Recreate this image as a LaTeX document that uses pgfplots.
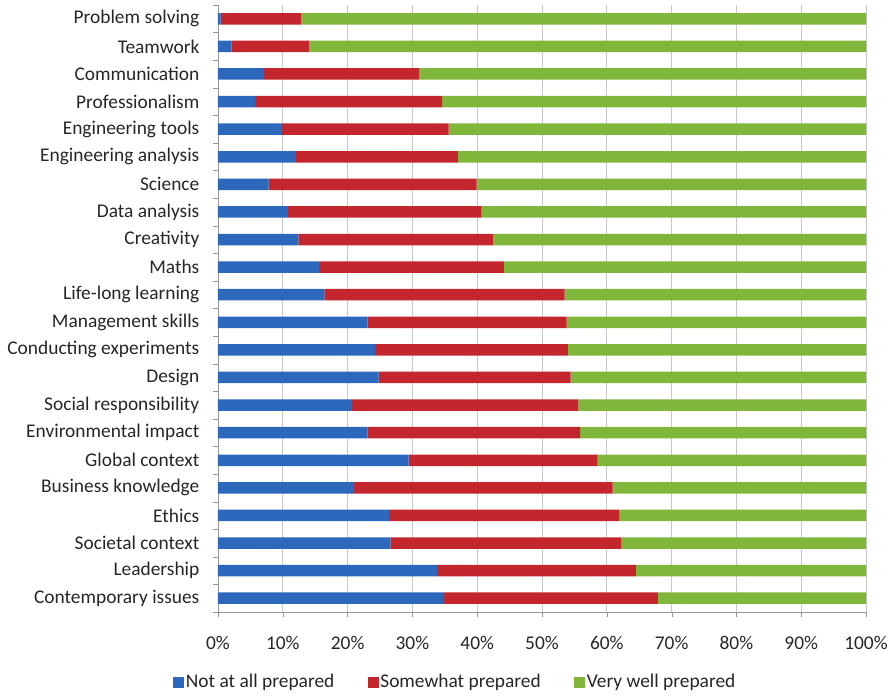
\documentclass[border=0pt]{standalone}
\usepackage{pgfplots}
\usepackage{pgfplotstable}
\pgfplotsset{compat=1.18}
\usepackage{fontspec}
\setmainfont{Carlito}
\definecolor{cblue}{RGB}{44,104,188}
\definecolor{cred}{RGB}{196,38,46}
\definecolor{cgreen}{RGB}{128,182,58}
\definecolor{cgrid}{RGB}{200,200,200}
\definecolor{caxis}{RGB}{150,150,150}
\pgfplotstableread{
idx a b c
0 0.4 12.4 87.2
1 2.1 12.0 85.9
2 7.1 23.9 69.0
3 5.7 28.9 65.4
4 9.9 25.7 64.4
5 12.0 25.0 63.0
6 7.8 32.1 60.1
7 10.8 29.9 59.3
8 12.4 30.1 57.5
9 15.6 28.5 55.9
10 16.4 37.1 46.5
11 23.1 30.7 46.2
12 24.2 29.8 46.0
13 24.8 29.6 45.6
14 20.7 34.9 44.4
15 23.1 32.8 44.1
16 29.4 29.2 41.4
17 21.0 39.9 39.1
18 26.4 35.5 38.1
19 26.6 35.6 37.8
20 33.8 30.7 35.5
21 34.9 33.0 32.1
}\datatable
\begin{document}
\fontsize{19.4}{23}\selectfont
\begin{tikzpicture}
\begin{axis}[
  name=main,
  scale only axis,
  width=648pt, height=607pt,
  xbar stacked,
  bar width=11.5pt,
  xmin=0, xmax=100,
  ymin=-0.5, ymax=21.5,
  y dir=reverse,
  xtick={0,10,...,100},
  xticklabel={\pgfmathprintnumber{\tick}\%},
  /pgf/number format/assume math mode=true,
  ytick={0,...,21},
  yticklabels={Problem solving,Teamwork,Communication,Professionalism,Engineering tools,Engineering analysis,Science,Data analysis,Creativity,Maths,Life-long learning,Management skills,Conducting experiments,Design,Social responsibility,Environmental impact,Global context,Business knowledge,Ethics,Societal context,Leadership,Contemporary issues},
  minor ytick={-0.5,0.5,...,21.5},
  major y tick style={draw=none},
  minor y tick style={caxis},
  minor tick length=5pt,
  major tick length=5pt,
  tick align=outside,
  x tick style={caxis},
  axis x line*=bottom,
  axis y line*=left,
  axis line style={caxis, line width=0.8pt},
  xmajorgrids,
  grid style={cgrid, line width=0.8pt},
  tick label style={font=\fontsize{19.4}{23}\selectfont, text=black!85},
  yticklabel style={xshift=-7pt},
  xticklabel style={yshift=-13pt},
  legend columns=3,
  legend style={draw=none, fill=none, at={(0.366,-0.116)}, anchor=center,
    font=\fontsize{19.4}{23}\selectfont, text=black!85,
    inner xsep=0pt,
    nodes={inner xsep=1.5pt},
    /tikz/every even column/.append style={column sep=32pt}},
  legend image code/.code={\fill[#1] (0pt,-5.5pt) rectangle (11pt,5.5pt);},
]
\addplot[fill=cblue, draw=none] table[x=a, y=idx] {\datatable};
\addplot[fill=cred, draw=none] table[x=b, y=idx] {\datatable};
\addplot[fill=cgreen, draw=none] table[x=c, y=idx] {\datatable};
\legend{Not at all prepared, Somewhat prepared, Very well prepared}
\end{axis}
\pgfresetboundingbox
\path[use as bounding box] ([xshift=-218pt,yshift=-87pt]main.south west) rectangle ([xshift=28pt,yshift=5pt]main.north east);
\end{tikzpicture}
\end{document}
